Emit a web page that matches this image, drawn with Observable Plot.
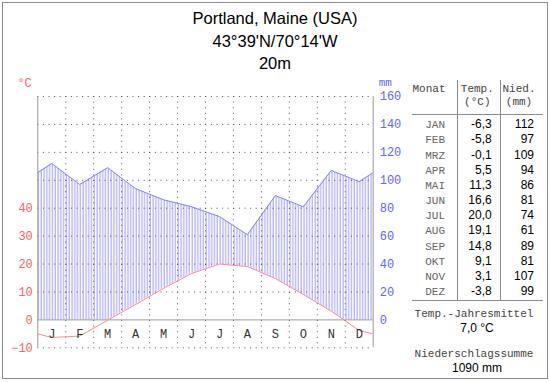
<!DOCTYPE html>
<html>
<head>
<meta charset="utf-8">
<script src="https://cdn.jsdelivr.net/npm/d3@7"></script>
<script src="https://cdn.jsdelivr.net/npm/@observablehq/plot@0.6"></script>
<style>
html, body { margin:0; padding:0; background:#fff; }
#page { position:relative; width:550px; height:382px; overflow:hidden; background:#fff; }
#frame { position:absolute; left:2px; top:2px; width:544px; height:375px; border:1px solid #8c8c8c; }
#chart { position:absolute; left:0; top:70px; }
#chart svg { display:block; }
#deco { position:absolute; left:0; top:0; }
</style>
</head>
<body>
<div id="page"><div id="frame"></div><div id="chart"></div></div>
<script>
// ---------------- data ----------------
const titleLines = ["Portland, Maine (USA)", "43°39'N/70°14'W", "20m"];
const monthLetters = ["J","F","M","A","M","J","J","A","S","O","N","D"];
const monthNames = ["JAN","FEB","MRZ","APR","MAI","JUN","JUL","AUG","SEP","OKT","NOV","DEZ"];
const temperature = [-6.3, -5.8, -0.1, 5.5, 11.3, 16.6, 20.0, 19.1, 14.8, 9.1, 3.1, -3.8];
const precipitation = [112, 97, 109, 94, 86, 81, 74, 61, 89, 81, 107, 99];
const tempTicks = [-10, 0, 10, 20, 30, 40];
const precipTicks = [0, 20, 40, 60, 80, 100, 120, 140, 160];
const gridTemps = [-10, 10, 20, 30, 40, 50, 60, 70, 80];
const monthBoundaries = [1, 2, 3, 4, 5, 6, 7, 8, 9, 10, 11];
const tableHeader = [["Monat", ""], ["Temp.", "(°C)"], ["Nied.", "(mm)"]];
const annualMeanTitle = "Temp.-Jahresmittel";
const annualMeanLabel = "7,0 °C";
const annualSumTitle = "Niederschlagssumme";
const annualSumLabel = "1090 mm";
const mmPerDegree = 2;

// ---------------- chart ----------------
const mono = "'Liberation Mono','DejaVu Sans Mono',monospace";
const sans = "'Liberation Sans',Arial,sans-serif";
const red = "#ff6262", blue = "#6464ff";

const monthly = temperature.map((t, i) => ({m: i + 0.5, t, p: precipitation[i] / mmPerDegree}));
const cyclic = [
  {m: -0.5, t: temperature[11], p: precipitation[11] / mmPerDegree},
  ...monthly,
  {m: 12.5, t: temperature[0], p: precipitation[0] / mmPerDegree}
];

const NS = "http://www.w3.org/2000/svg";
const hatchDefs = (index, scales, values, dims, context) => {
  const doc = context.document;
  const defs = doc.createElementNS(NS, "defs");
  const pat = doc.createElementNS(NS, "pattern");
  const step = (scales.x(1) - scales.x(0)) / 10;
  pat.setAttribute("id", "hatch");
  pat.setAttribute("patternUnits", "userSpaceOnUse");
  pat.setAttribute("x", scales.x(0));
  pat.setAttribute("y", 0);
  pat.setAttribute("width", step);
  pat.setAttribute("height", 8);
  const r = doc.createElementNS(NS, "rect");
  r.setAttribute("x", 0.6);
  r.setAttribute("y", 0);
  r.setAttribute("width", 1);
  r.setAttribute("height", 8);
  r.setAttribute("fill", "#9a9aff");
  pat.appendChild(r);
  defs.appendChild(pat);
  return defs;
};

const chart = Plot.plot({
  width: 410, height: 300,
  marginLeft: 37.3, marginRight: 37.3, marginTop: 26, marginBottom: 22.7,
  x: {domain: [0, 12], axis: null},
  y: {domain: [tempTicks[0], precipTicks[precipTicks.length - 1] / mmPerDegree], axis: null},
  style: {background: "transparent", overflow: "visible", fontFamily: mono, fontSize: "12px"},
  marks: [
    hatchDefs,
    Plot.areaY(cyclic, {x: "m", y1: "t", y2: "p", fill: "url(#hatch)", clip: true}),
    Plot.rect([0], {x1: 0, x2: 12, y1: tempTicks[0], y2: 0, fill: "white"}),
    Plot.ruleY(gridTemps, {stroke: "#555", strokeDasharray: "1,4.6"}),
    Plot.ruleX(monthBoundaries, {stroke: "#555", strokeDasharray: "1,4.6"}),
    Plot.ruleY([0], {stroke: "#9a9a9a"}),
    Plot.ruleX([0, 12], {stroke: "#9a9a9a"}),
    Plot.line(cyclic, {x: "m", y: "p", stroke: "#8282ff", strokeWidth: 1, clip: true}),
    Plot.line(cyclic, {x: "m", y: "t", stroke: "#ff8a8a", strokeWidth: 1, clip: true}),
    Plot.text(monthLetters, {x: (d, i) => i + 0.5, y: tempTicks[0] / 2, fill: "#333", fontSize: 12, fontFamily: mono}),
    Plot.axisY(tempTicks, {anchor: "left", tickSize: 0, tickPadding: 5, fill: red, label: null, fontSize: 12, fontFamily: mono}),
    Plot.axisY(precipTicks.map(v => v / mmPerDegree), {anchor: "right", tickSize: 0, tickPadding: 6.5,
      tickFormat: d => String(d * mmPerDegree), fill: blue, label: null, fontSize: 12, fontFamily: mono}),
    Plot.text(["°C"], {frameAnchor: "top-left", textAnchor: "end", dx: -6, dy: -18, fill: red, fontSize: 12, fontFamily: mono}),
    Plot.text(["mm"], {frameAnchor: "top-right", textAnchor: "start", dx: 5.5, dy: -18, fill: blue, fontSize: 11, fontFamily: mono})
  ]
});
document.getElementById("chart").appendChild(chart);

// ---------------- title & table ----------------
const deco = d3.select("#page").append("svg").attr("id", "deco")
  .attr("width", 550).attr("height", 382);

const titleBase = [24, 47, 69];
deco.selectAll("text.title").data(titleLines).join("text")
  .attr("class", "title")
  .attr("x", 275).attr("y", (d, i) => titleBase[i])
  .attr("text-anchor", "middle")
  .style("font-family", sans).style("font-size", "16.5px").attr("fill", "#000")
  .text(d => d);

const colCenters = [429, 477.3, 519];
tableHeader.forEach((h, i) => {
  deco.append("text").attr("x", colCenters[i]).attr("y", 91.5).attr("text-anchor", "middle")
    .style("font-family", mono).style("font-size", "11px").attr("fill", "#444").text(h[0]);
  if (h[1]) deco.append("text").attr("x", colCenters[i]).attr("y", 105).attr("text-anchor", "middle")
    .style("font-family", mono).style("font-size", "11px").attr("fill", "#444").text(h[1]);
});
const lineColor = "#8c8c8c";
deco.append("line").attr("x1", 412).attr("x2", 543).attr("y1", 114.5).attr("y2", 114.5).attr("stroke", lineColor);
deco.append("line").attr("x1", 412).attr("x2", 543).attr("y1", 300.5).attr("y2", 300.5).attr("stroke", lineColor);
[457.5, 500.5].forEach(x => deco.append("line").attr("x1", x).attr("x2", x).attr("y1", 80).attr("y2", 300.5).attr("stroke", lineColor));

const fmt = v => v.toFixed(1).replace(".", ",");
monthNames.forEach((name, i) => {
  const y = 128.3 + i * 15.15;
  deco.append("text").attr("x", 445).attr("y", y).attr("text-anchor", "end")
    .style("font-family", mono).style("font-size", "11px").attr("fill", "#666").text(name);
  deco.append("text").attr("x", 491.7).attr("y", y).attr("text-anchor", "end")
    .style("font-family", sans).style("font-size", "12px").attr("fill", "#000").text(fmt(temperature[i]));
  deco.append("text").attr("x", 534).attr("y", y).attr("text-anchor", "end")
    .style("font-family", sans).style("font-size", "12px").attr("fill", "#000").text(String(precipitation[i]));
});

[[annualMeanTitle, 316.5, mono, "#444", 474], [annualMeanLabel, 331.5, sans, "#000", 477],
 [annualSumTitle, 356.5, mono, "#444", 474], [annualSumLabel, 371.5, sans, "#000", 477]].forEach(([t, y, f, c, x]) => {
  deco.append("text").attr("x", x).attr("y", y).attr("text-anchor", "middle")
    .style("font-family", f).style("font-size", f === mono ? "11px" : "12px").attr("fill", c).text(t);
});
</script>
</body>
</html>
